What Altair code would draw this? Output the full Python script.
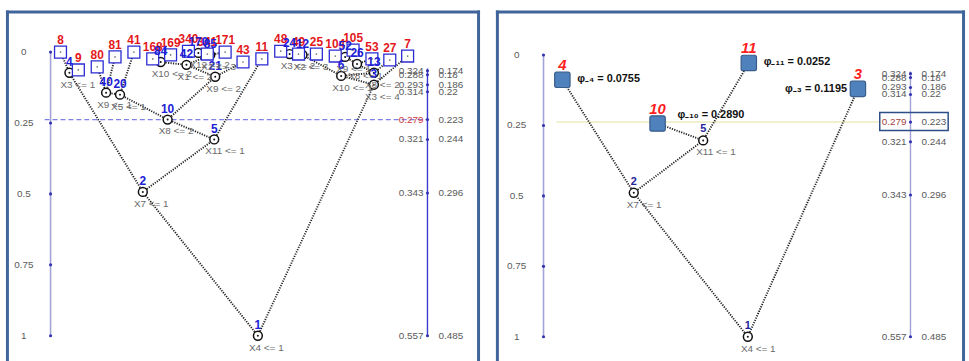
import altair as alt
import pandas as pd

FONT = "Liberation Sans"
GREY = "#5a5a5a"

# ---------------- full tree (left panel) ----------------
node_id = [1, 2, 3, 4, 5, 6, 10, 12, 13, 20, 21, 24, 26, 40, 42, 52, 84, 85, 170]
node_pos = [258, 142, 375, 68, 214, 342, 167, 303, 375, 119, 215, 290, 358, 105, 186, 346, 160, 210, 198]
node_h = [1.0, 0.493, 0.115, 0.073, 0.308, 0.084, 0.238, 0.010, 0.073, 0.150, 0.087,
          0.007, 0.042, 0.143, 0.045, 0.017, 0.035, 0.010, 0.003]
node_rule = ["X4 <= 1", "X7 <= 1", "X3 <= 4", "X3 <= 1", "X11 <= 1", "X10 <= 1", "X8 <= 2",
             "X2 <= 3", "X8 <= 2", "X5 <= 1", "X9 <= 2", "X3 <= 2", "X8 <= 1", "X9 <= 1",
             "X1 <= 2", "X9 <= 1", "X10 <= 2", "X2 <= 3", "X12 <= 2"]

leaf_id = [7, 8, 9, 11, 25, 27, 41, 43, 48, 49, 53, 80, 81, 104, 105, 168, 169, 171, 340, 341]
leaf_pos = [409, 59, 77, 262, 317, 391, 133, 243, 281, 299, 373, 96, 114, 336, 354, 152, 170, 225, 188, 207]
leaf_h = [0.014, 0.0, 0.063, 0.024, 0.007, 0.028, 0.0, 0.035, -0.003, 0.007, 0.024, 0.052,
          0.017, 0.014, -0.007, 0.024, 0.010, 0.0, -0.003, 0.007]

# ---------------- pruned tree (right panel) ----------------
p_node_id = [1, 2, 5]
p_node_pos = [748, 633, 703]
p_node_h = [1.0, 0.489, 0.303]
p_node_rule = ["X4 <= 1", "X7 <= 1", "X11 <= 1"]

p_leaf_id = [3, 4, 10, 11]
p_leaf_pos = [859, 561, 657, 749]
p_leaf_h = [0.120, 0.088, 0.243, 0.028]
p_leaf_phi = [0.1195, 0.0755, 0.2890, 0.0252]

# ---------------- axes ----------------
height_ticks = [0, 0.25, 0.5, 0.75, 1]
height_labels = ["0", "0.25", "0.5", "0.75", "1"]
crit_h = [0.066, 0.080, 0.115, 0.140, 0.238, 0.308, 0.497, 1.0]
crit_left = ["0.324", "0.288", "0.293", "0.314", "0.279", "0.321", "0.343", "0.557"]
crit_right = ["0.174", "0.18", "0.186", "0.22", "0.223", "0.244", "0.296", "0.485"]
cut_h = 0.238

H = 354
W1, W2 = 478, 473
XS1 = alt.Scale(domain=[4, 482], range=[0, W1], nice=False, zero=False)
XS2 = alt.Scale(domain=[494, 967], range=[0, W2], nice=False, zero=False)
YS1 = alt.Scale(domain=[0, 1], range=[42, 328], nice=False, zero=False)
YS2 = alt.Scale(domain=[0, 1], range=[45, 329], nice=False, zero=False)

SUB = str.maketrans("0123456789", "₀₁₂₃₄₅₆₇₈₉")


def X(field, sc):
    return alt.X(f"{field}:Q", scale=sc, axis=None)


def Y(field, sc):
    return alt.Y(f"{field}:Q", scale=sc, axis=None)


def edges(ids, pos, h):
    where = dict(zip(ids, zip(pos, h)))
    rows = []
    for i in ids:
        if i > 1:
            px, ph = where[i // 2]
            cx, ch = where[i]
            rows.append({"pos": px, "h": ph, "pos2": cx, "h2": ch})
    return pd.DataFrame(rows)


def axis_layers(xs, ys, left_x, right_x, left_col, right_col, cut_col):
    ax = pd.DataFrame({"pos": [left_x] * 5, "h": height_ticks, "lab": height_labels})
    cr = pd.DataFrame({"pos": [right_x] * len(crit_h), "h": crit_h, "l": crit_left, "r": crit_right})
    line_l = alt.Chart(pd.DataFrame({"pos": [left_x], "h": [0.0], "h2": [1.0]})).mark_rule(
        color=left_col, strokeWidth=1.6).encode(x=X("pos", xs), y=Y("h", ys), y2="h2")
    dots_l = alt.Chart(ax).mark_point(filled=True, size=10, color="#3434b0", opacity=1).encode(
        x=X("pos", xs), y=Y("h", ys))
    text_l = alt.Chart(ax).mark_text(dx=-27, fontSize=10, color=GREY, align="center", baseline="middle").encode(
        x=X("pos", xs), y=Y("h", ys), text="lab:N")
    line_r = alt.Chart(pd.DataFrame({"pos": [right_x], "h": [0.058], "h2": [1.0]})).mark_rule(
        color=right_col, strokeWidth=1.4).encode(x=X("pos", xs), y=Y("h", ys), y2="h2")
    dots_r = alt.Chart(cr).mark_point(filled=True, size=10, color="#3434b0", opacity=1).encode(
        x=X("pos", xs), y=Y("h", ys))
    text_rl = alt.Chart(cr).mark_text(dx=-4, fontSize=10, align="right", baseline="middle").encode(
        x=X("pos", xs), y=Y("h", ys), text="l:N",
        color=alt.condition(alt.datum.l == "0.279", alt.value(cut_col), alt.value(GREY)))
    text_rr = alt.Chart(cr).mark_text(dx=11, fontSize=10, color=GREY, align="left", baseline="middle").encode(
        x=X("pos", xs), y=Y("h", ys), text="r:N")
    return [line_l, dots_l, text_l, line_r, dots_r, text_rl, text_rr]


def frame(w):
    one = pd.DataFrame({"k": [0]})
    col = "#40659a"
    left = alt.Chart(one).mark_rule(color=col, strokeWidth=3).encode(
        x=alt.value(1.5), y=alt.value(0), y2=alt.value(H))
    top = alt.Chart(one).mark_rule(color=col, strokeWidth=3).encode(
        x=alt.value(0), x2=alt.value(w), y=alt.value(1.5))
    right = alt.Chart(one).mark_rule(color=col, strokeWidth=3).encode(
        x=alt.value(w - 1.5), y=alt.value(0), y2=alt.value(H))
    return [left, top, right]


# ---------------- left panel ----------------
nodes1 = pd.DataFrame({"id": node_id, "pos": node_pos, "h": node_h, "rule": node_rule})
leaves1 = pd.DataFrame({"id": leaf_id, "pos": leaf_pos, "h": leaf_h})
all_ids = node_id + leaf_id
edges1 = edges(all_ids, node_pos + leaf_pos, node_h + leaf_h)

cut1 = alt.Chart(pd.DataFrame({"pos": [43], "pos2": [429], "h": [cut_h]})).mark_rule(
    color="#7f7fe8", strokeDash=[5, 3], strokeWidth=1.1).encode(x=X("pos", XS1), x2="pos2", y=Y("h", YS1))

links1 = alt.Chart(edges1).mark_rule(color="#222", strokeDash=[1.2, 1.3], strokeWidth=1.9).encode(
    x=X("pos", XS1), y=Y("h", YS1), x2="pos2", y2="h2")
circ1 = alt.Chart(nodes1).mark_point(shape="circle", size=80, fill="white", stroke="#111",
                                     strokeWidth=1.5, opacity=1, fillOpacity=1).encode(
    x=X("pos", XS1), y=Y("h", YS1))
cdot1 = alt.Chart(nodes1).mark_point(shape="circle", size=4, filled=True, color="#111", opacity=1).encode(
    x=X("pos", XS1), y=Y("h", YS1))
box1 = alt.Chart(leaves1).mark_point(shape="square", size=144, fill="white", stroke="#2b2bd3",
                                     strokeWidth=1.3, opacity=1, fillOpacity=1).encode(
    x=X("pos", XS1), y=Y("h", YS1))
bdot1 = alt.Chart(leaves1).mark_point(shape="circle", size=3, filled=True, color="#777", opacity=1).encode(
    x=X("pos", XS1), y=Y("h", YS1))
leaf_txt1 = alt.Chart(leaves1).mark_text(dy=-12, fontSize=12, fontWeight="bold", color="#e3171b",
                                         baseline="middle").encode(
    x=X("pos", XS1), y=Y("h", YS1), text="id:N")
node_txt1 = alt.Chart(nodes1).mark_text(dy=-11, fontSize=12, fontWeight="bold", color="#2020d6",
                                        baseline="middle").encode(
    x=X("pos", XS1), y=Y("h", YS1), text="id:N")
rule_txt1 = alt.Chart(nodes1).mark_text(dx=-9, dy=12, fontSize=10, color="#6a6a6a", align="left",
                                        baseline="middle").encode(
    x=X("pos", XS1), y=Y("h", YS1), text="rule:N")

left_panel = alt.layer(
    cut1, *axis_layers(XS1, YS1, 49, 429, "#a4a4d8", "#3c3cd0", "#d03a3a"),
    links1, circ1, cdot1, box1, bdot1, leaf_txt1, node_txt1, rule_txt1, *frame(W1)
).properties(width=W1, height=H)

# ---------------- right panel ----------------
nodes2 = pd.DataFrame({"id": p_node_id, "pos": p_node_pos, "h": p_node_h, "rule": p_node_rule})
leaves2 = pd.DataFrame({"id": p_leaf_id, "pos": p_leaf_pos, "h": p_leaf_h, "phi": p_leaf_phi})
leaves2["label"] = [f"φ₋{str(i).translate(SUB)} = {v:.4f}" for i, v in zip(p_leaf_id, p_leaf_phi)]
edges2 = edges(p_node_id + p_leaf_id, p_node_pos + p_leaf_pos, p_node_h + p_leaf_h)

ghost2 = alt.Chart(pd.DataFrame({"pos": [555], "pos2": [880], "h": [cut_h]})).mark_rule(
    color="#eef0c6", strokeWidth=2, opacity=0.9).encode(x=X("pos", XS2), x2="pos2", y=Y("h", YS2))
hl2 = alt.Chart(pd.DataFrame({"pos": [881], "pos2": [950], "h": [0.204], "h2": [0.268]})).mark_rect(
    fill="white", fillOpacity=0, stroke="#2d4e86", strokeWidth=1.5).encode(
    x=X("pos", XS2), x2="pos2", y=Y("h", YS2), y2="h2")

links2 = alt.Chart(edges2).mark_rule(color="#222", strokeDash=[1.2, 1.3], strokeWidth=1.9).encode(
    x=X("pos", XS2), y=Y("h", YS2), x2="pos2", y2="h2")
circ2 = alt.Chart(nodes2).mark_point(shape="circle", size=80, fill="white", stroke="#111",
                                     strokeWidth=1.5, opacity=1, fillOpacity=1).encode(
    x=X("pos", XS2), y=Y("h", YS2))
cdot2 = alt.Chart(nodes2).mark_point(shape="circle", size=4, filled=True, color="#111", opacity=1).encode(
    x=X("pos", XS2), y=Y("h", YS2))
ROUND_SQ = "M -1 -0.75 Q -1 -1 -0.75 -1 L 0.75 -1 Q 1 -1 1 -0.75 L 1 0.75 Q 1 1 0.75 1 L -0.75 1 Q -1 1 -1 0.75 Z"
box2 = alt.Chart(leaves2).mark_point(shape=ROUND_SQ, size=240, fill="#4f81bd", stroke="#385d8a",
                                     strokeWidth=1.2, opacity=1, fillOpacity=1).encode(
    x=X("pos", XS2), y=Y("h", YS2))
leaf_txt2 = alt.Chart(leaves2).mark_text(dy=-15, fontSize=15, fontWeight="bold", fontStyle="italic",
                                         color="#ff1f1f", baseline="middle").encode(
    x=X("pos", XS2), y=Y("h", YS2), text="id:N")
phi_a = alt.Chart(leaves2).transform_filter("datum.id == 4 || datum.id == 11").mark_text(
    dx=15, dy=-1, fontSize=11, fontWeight="bold", color="#111", align="left", baseline="middle").encode(
    x=X("pos", XS2), y=Y("h", YS2), text="label:N")
phi_b = alt.Chart(leaves2).transform_filter("datum.id == 10").mark_text(
    dx=20, dy=-9, fontSize=11, fontWeight="bold", color="#111", align="left", baseline="middle").encode(
    x=X("pos", XS2), y=Y("h", YS2), text="label:N")
phi_c = alt.Chart(leaves2).transform_filter("datum.id == 3").mark_text(
    dx=-11, dy=0, fontSize=11, fontWeight="bold", color="#111", align="right", baseline="middle").encode(
    x=X("pos", XS2), y=Y("h", YS2), text="label:N")
node_txt2 = alt.Chart(nodes2).mark_text(dy=-11, fontSize=11, fontWeight="bold", color="#23239c",
                                        baseline="middle").encode(
    x=X("pos", XS2), y=Y("h", YS2), text="id:N")
rule_txt2 = alt.Chart(nodes2).mark_text(dx=-7, dy=12, fontSize=10, color="#6a6a6a", align="left",
                                        baseline="middle").encode(
    x=X("pos", XS2), y=Y("h", YS2), text="rule:N")

right_panel = alt.layer(
    ghost2, *axis_layers(XS2, YS2, 542, 912, "#a4a4d8", "#a0a0d6", "#a54444"), hl2,
    links2, circ2, cdot2, box2, leaf_txt2, phi_a, phi_b, phi_c, node_txt2, rule_txt2, *frame(W2)
).properties(width=W2, height=H)

chart = alt.hconcat(left_panel, right_panel, spacing=12).properties(
    padding={"left": 4, "top": 7, "right": 2, "bottom": 0},
    background="white",
).configure_view(strokeWidth=0).configure_text(font=FONT)

chart.save("out.html", embed_options={"renderer": "svg", "actions": False})
